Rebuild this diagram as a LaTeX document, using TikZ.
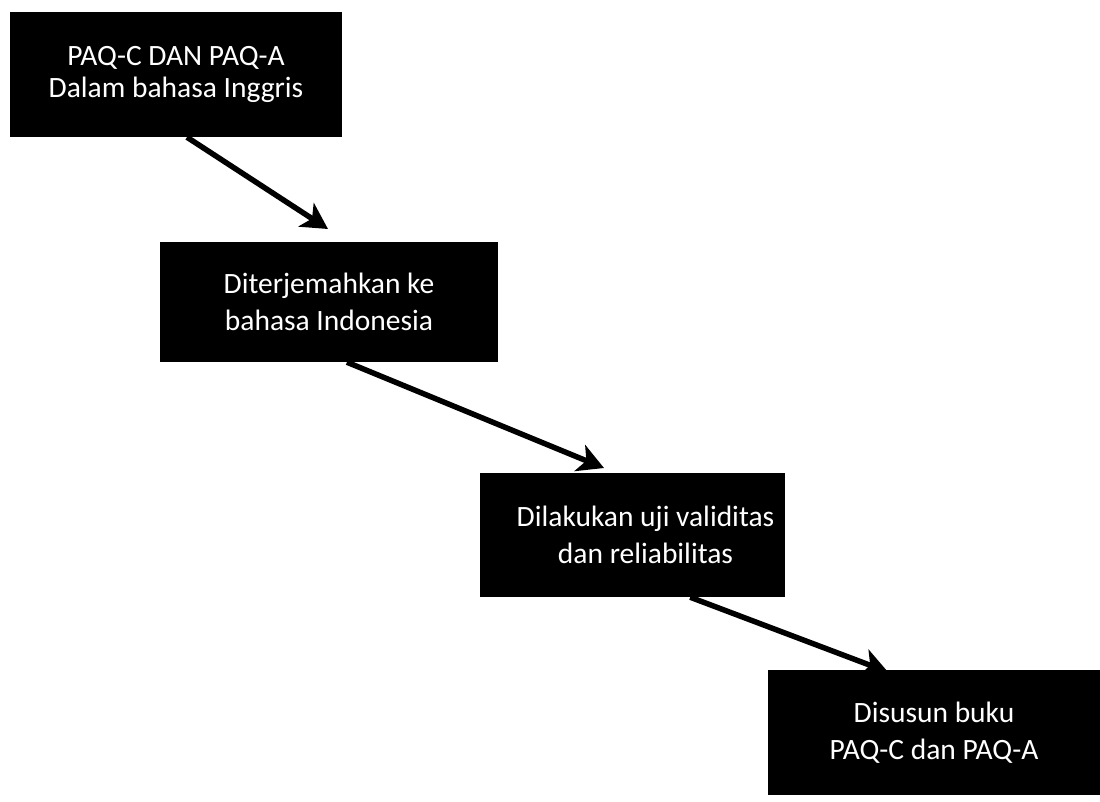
\documentclass[tikz,border=0pt]{standalone}
\usepackage{fontspec}
\setmainfont{Carlito}
\usetikzlibrary{arrows.meta,calc}
\begin{document}
\begin{tikzpicture}[x=1pt,y=-1pt,
  stepbox/.style={draw=none,fill=black,text=white,align=center,inner sep=0pt,
    font=\fontsize{29.5}{37}\selectfont},
  flow/.style={line width=5.5pt,-{Stealth[length=26pt,width=28pt,inset=7pt]}}]
\useasboundingbox[fill=white] (0,0) rectangle (1100,801);
\node[stepbox,minimum width=332pt,minimum height=125pt,font=\fontsize{29.5}{32}\selectfont] (b1) at (176,74.5) {PAQ-C DAN PAQ-A\\Dalam bahasa Inggris};
\node[stepbox,minimum width=338pt,minimum height=120pt] (b2) at (329,302) {Diterjemahkan ke\\bahasa Indonesia};
\node[stepbox,minimum width=305pt,minimum height=124pt] (b3) at (632.5,535) {\hspace*{26pt}Dilakukan uji validitas\\\hspace*{26pt}dan reliabilitas};
\node[stepbox,minimum width=332pt,minimum height=125pt] (b4) at (934,732.5) {Disusun buku\\PAQ-C dan PAQ-A};
\coordinate (t1) at (328,229);
\coordinate (t2) at (604,468);
\coordinate (t3) at (888,672);
\draw[flow] ($(b1.south west)!0.533!(b1.south east)$) -- (t1);
\draw[flow] ($(b2.south west)!0.553!(b2.south east)$) -- (t2);
\draw[flow] ($(b3.south west)!0.689!(b3.south east)$) -- (t3);
\end{tikzpicture}
\end{document}
